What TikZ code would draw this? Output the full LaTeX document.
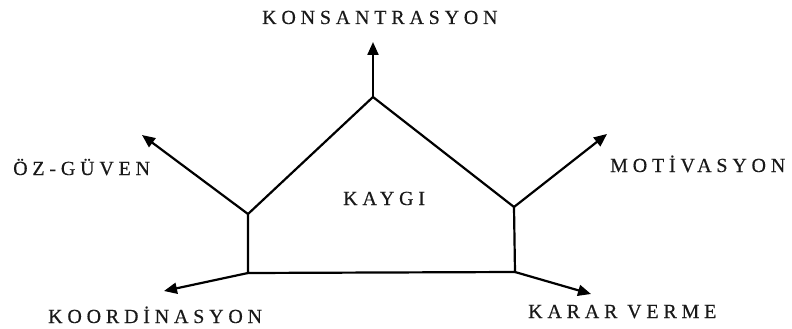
\documentclass[tikz,border=0pt]{standalone}
\usepackage{fontspec}
\setmainfont{Liberation Serif}[LetterSpace=24,FakeBold=0.4]
\usetikzlibrary{arrows.meta}
\begin{document}
\begin{tikzpicture}[x=1pt,y=-1pt,
  edge/.style={line width=2.2pt, line join=miter},
  arr/.style={line width=2.2pt, -{Triangle[length=13pt,width=11pt]}},
  lbl/.style={inner sep=0pt, anchor=base west, font=\fontsize{20}{22}\selectfont, text=black!90}]
\useasboundingbox (0,0) rectangle (792,329);
% pentagon vertices
\coordinate (apex) at (373,97);
\coordinate (ul) at (248,214);
\coordinate (ur) at (514,207);
\coordinate (bl) at (248,273);
\coordinate (br) at (515,272);
% arrow tips
\coordinate (tTop) at (373,42);
\coordinate (tLeft) at (142,135);
\coordinate (tRight) at (607,134);
\coordinate (tBL) at (164,291);
\coordinate (tBR) at (591,294);
% shape
\draw[edge] (bl) -- (ul) -- (apex) -- (ur) -- (br) -- cycle;
% arrows
\draw[arr] (apex) -- (tTop);
\draw[arr] (ul) -- (tLeft);
\draw[arr] (ur) -- (tRight);
\draw[arr] (bl) -- (tBL);
\draw[arr] (br) -- (tBR);
% labels
\node[lbl] (konsantrasyon) at (262,24) {KONSANTRASYON};
\node[lbl] (ozguven) at (13,175) {ÖZ-GÜVEN};
\node[lbl] (motivasyon) at (610,172) {MOTİVASYON};
\node[lbl] (kaygi) at (343,205) {KAYGI};
\node[lbl] (koordinasyon) at (48,323) {KOORDİNASYON};
\node[lbl] (kararverme) at (528,318) {KARAR VERME};
\end{tikzpicture}
\end{document}
